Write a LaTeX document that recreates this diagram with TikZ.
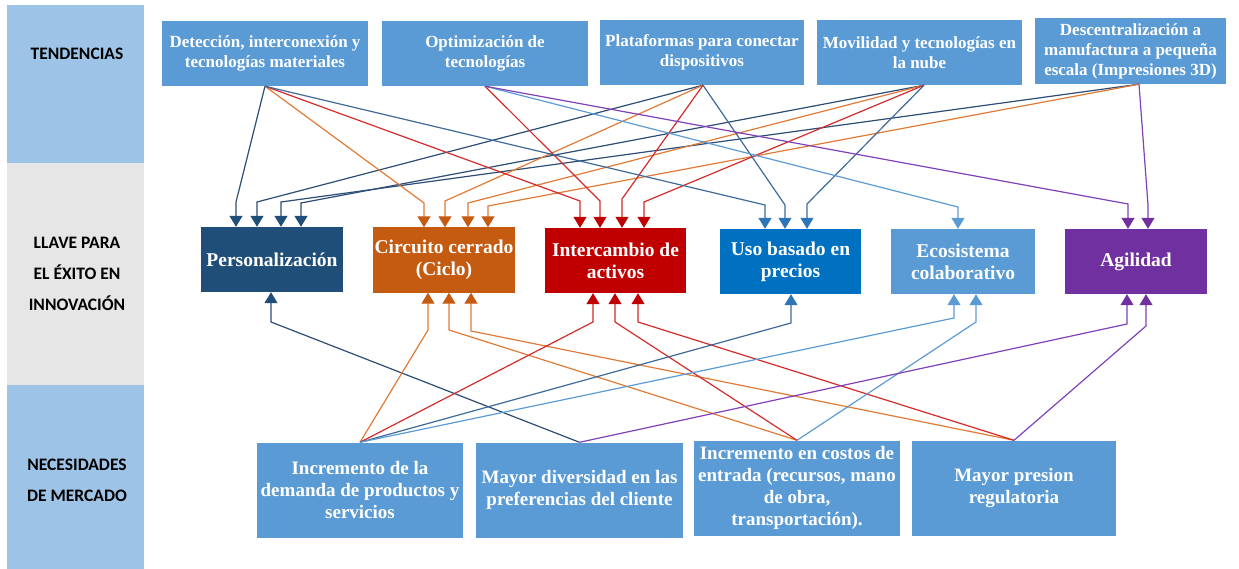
\documentclass[tikz,border=0pt]{standalone}
\usepackage{fontspec}
\setmainfont{Liberation Serif}
\newfontfamily\labfont{Carlito}
\usetikzlibrary{arrows.meta}
\definecolor{band}{HTML}{9DC3E6}
\definecolor{bandgrey}{HTML}{E7E6E6}
\definecolor{tb}{HTML}{5B9BD5}
\definecolor{persD}{HTML}{1F4E79}
\definecolor{persL}{HTML}{2C4D75}
\definecolor{circD}{HTML}{C55A11}
\definecolor{circL}{HTML}{E07A35}
\definecolor{interD}{HTML}{C00000}
\definecolor{interL}{HTML}{D42A2A}
\definecolor{usoD}{HTML}{0070C0}
\definecolor{usoH}{HTML}{2E75B6}
\definecolor{usoL}{HTML}{3E6A99}
\definecolor{ecoL}{HTML}{5B9BD5}
\definecolor{agilD}{HTML}{7030A0}
\definecolor{agilL}{HTML}{8040B8}
\tikzset{
  box/.style={rectangle, text=white, align=center, inner sep=0pt},
  topbox/.style={box, fill=tb, minimum width=206pt, minimum height=65pt, font=\bfseries\fontsize{17}{20}\selectfont},
  midbox/.style={box, minimum width=142pt, minimum height=65pt, font=\bfseries\fontsize{19.5}{22}\selectfont},
  botbox/.style={box, fill=tb, minimum width=206pt, minimum height=95pt, font=\bfseries\fontsize{19}{22}\selectfont},
  lab/.style={align=center, font=\labfont\bfseries\fontsize{17.5}{31}\selectfont, text=black},
  conn/.style={line width=1.2pt},
  cpers/.style={conn, draw=persL, -{Triangle[width=13pt,length=11pt,color=persD]}},
  ccirc/.style={conn, draw=circL, -{Triangle[width=13pt,length=11pt,color=circD]}},
  cinter/.style={conn, draw=interL, -{Triangle[width=13pt,length=11pt,color=interD]}},
  cuso/.style={conn, draw=usoL, -{Triangle[width=13pt,length=11pt,color=usoH]}},
  ceco/.style={conn, draw=ecoL, -{Triangle[width=13pt,length=11pt,color=ecoL]}},
  cagil/.style={conn, draw=agilL, -{Triangle[width=13pt,length=11pt,color=agilD]}},
}
\begin{document}
\begin{tikzpicture}[x=1pt,y=-1pt]
\path[use as bounding box] (0,0) rectangle (1239,569);
% left bands
\fill[band] (7,5) rectangle (144,163);
\fill[bandgrey] (7,163) rectangle (144,385);
\fill[band] (7,385) rectangle (144,569);
\node[lab] (l1) at (77,54) {TENDENCIAS};
\node[lab] (l2) at (77,274) {LLAVE PARA\\EL ÉXITO EN\\INNOVACIÓN};
\node[lab] (l3) at (77,480) {NECESIDADES\\DE MERCADO};
% top boxes
\node[topbox] (t1) at (265,53.5) {Detección, interconexión y\\tecnologías materiales};
\node[topbox] (t2) at (485,53.5) {Optimización de\\tecnologías};
\node[topbox, minimum width=204pt] (t3) at (702,52.5) {Plataformas para conectar\\dispositivos};
\node[topbox, minimum width=205pt] (t4) at (919.5,52.5) {Movilidad y tecnologías en\\la nube};
\node[topbox, minimum width=191pt, minimum height=66pt] (t5) at (1130.5,51) {Descentralización a\\manufactura a pequeña\\escala (Impresiones 3D)};
% middle boxes
\node[midbox, fill=persD] (pers) at (272,259.5) {Personalización};
\node[midbox, fill=circD] (circ) at (444,260) {Circuito cerrado\\(Ciclo)};
\node[midbox, fill=interD, minimum width=141pt] (inter) at (615.5,260.5) {Intercambio de\\activos};
\node[midbox, fill=usoD, minimum width=141pt] (uso) at (790.5,261.5) {Uso basado en\\precios};
\node[midbox, fill=tb, minimum width=144pt] (eco) at (963,261.5) {Ecosistema\\colaborativo};
\node[midbox, fill=agilD] (agil) at (1136,261.5) {Agilidad};
% bottom boxes
\node[botbox] (b1) at (360,490) {Incremento de la\\demanda de productos y\\servicios};
\node[botbox, minimum width=207pt] (b2) at (579.5,490) {Mayor diversidad en las\\preferencias del cliente};
\node[botbox] (b3) at (797,488) {Incremento en costos de\\entrada (recursos, mano\\de obra,\\transportación).};
\node[botbox, minimum width=204pt] (b4) at (1014,488) {Mayor presion\\regulatoria};
% source points
\coordinate (s1) at (t1.south);
\coordinate (s2) at (t2.south);
\coordinate (s3) at ([xshift=1pt]t3.south);
\coordinate (s4) at ([xshift=4.5pt]t4.south);
\coordinate (s5) at ([xshift=8.5pt]t5.south);
\coordinate (u1) at (b1.north);
\coordinate (u2) at (b2.north);
\coordinate (u3) at (b3.north);
\coordinate (u4) at (b4.north);
% top -> middle
\draw[cpers] (s1) -- (236,202) -- (pers.north -| 236,0);
\draw[cpers] (s3) -- (257,202) -- (pers.north -| 257,0);
\draw[cpers] (s5) -- (281,202) -- (pers.north -| 281,0);
\draw[cpers] (s4) -- (301,203) -- (pers.north -| 301,0);
\draw[ccirc] (s1) -- (424,203) -- (circ.north -| 424,0);
\draw[ccirc] (s3) -- (445,201) -- (circ.north -| 445,0);
\draw[ccirc] (s4) -- (468,203) -- (circ.north -| 468,0);
\draw[ccirc] (s5) -- (488,206) -- (circ.north -| 488,0);
\draw[cinter] (s1) -- (580,201) -- (inter.north -| 580,0);
\draw[cinter] (s2) -- (600,201) -- (inter.north -| 600,0);
\draw[cinter] (s3) -- (622,199) -- (inter.north -| 622,0);
\draw[cinter] (s4) -- (644,202) -- (inter.north -| 644,0);
\draw[cuso] (s1) -- (765,205) -- (uso.north -| 765,0);
\draw[cuso] (s3) -- (785,205) -- (uso.north -| 785,0);
\draw[cuso] (s4) -- (807,204) -- (uso.north -| 807,0);
\draw[ceco] (s2) -- (958,207) -- (eco.north -| 958,0);
\draw[cagil] (s2) -- (1128,204) -- (agil.north -| 1128,0);
\draw[cagil] (s5) -- (1148,205) -- (agil.north -| 1148,0);
% bottom -> middle
\draw[cpers] (u2) -- (271,322) -- (pers.south -| 271,0);
\draw[ccirc] (u1) -- (428,330) -- (circ.south -| 428,0);
\draw[ccirc] (u3) -- (449,330) -- (circ.south -| 449,0);
\draw[ccirc] (u4) -- (471,331) -- (circ.south -| 471,0);
\draw[cinter] (u1) -- (593,322) -- (inter.south -| 593,0);
\draw[cinter] (u3) -- (615,322) -- (inter.south -| 615,0);
\draw[cinter] (u4) -- (638,322) -- (inter.south -| 638,0);
\draw[cuso] (u1) -- (791,323) -- (uso.south -| 791,0);
\draw[ceco] (u1) -- (954,318) -- (eco.south -| 954,0);
\draw[ceco] (u3) -- (976,322) -- (eco.south -| 976,0);
\draw[cagil] (u2) -- (1127,324) -- (agil.south -| 1127,0);
\draw[cagil] (u4) -- (1146,326) -- (agil.south -| 1146,0);
\end{tikzpicture}
\end{document}
